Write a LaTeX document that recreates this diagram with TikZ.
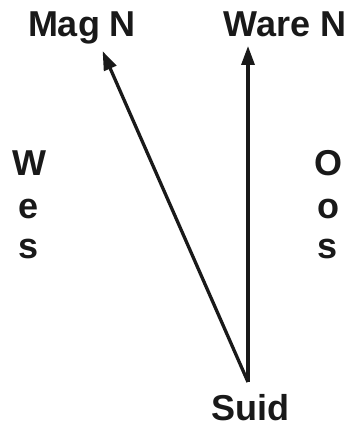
\documentclass[tikz,border=0pt]{standalone}
\usepackage{fontspec}
\setmainfont{Liberation Sans}
\usetikzlibrary{arrows.meta}
\begin{document}
\begin{tikzpicture}[x=1pt,y=-1pt,
  lbl/.style={font=\fontsize{36}{36}\selectfont\bfseries, anchor=base, inner sep=0pt, text=black!90},
  arr/.style={line width=3.3pt, draw=black!90, -{Triangle[length=19pt,width=13pt]}, shorten >=-1pt}]
\useasboundingbox (0,0) rectangle (351,425);
\node[lbl] (mag) at (82,37) {Mag N};
\node[lbl] (ware) at (285,37) {Ware N};
\node[lbl] (suid) at (250,420) {Suid};
\node[lbl] (w1) at (29,175) {W};
\node[lbl] (w2) at (29,218) {e};
\node[lbl] (w3) at (29,258) {s};
\node[lbl] (o1) at (328,175) {O};
\node[lbl] (o2) at (328,218) {o};
\node[lbl] (o3) at (328,258) {s};
\coordinate (base) at (248,382);
\coordinate (magtip) at (103,52);
\coordinate (waretip) at (248,47);
\draw[arr, line join=miter] (base) -- (magtip);
\draw[arr] (base) -- (waretip);
\end{tikzpicture}
\end{document}
